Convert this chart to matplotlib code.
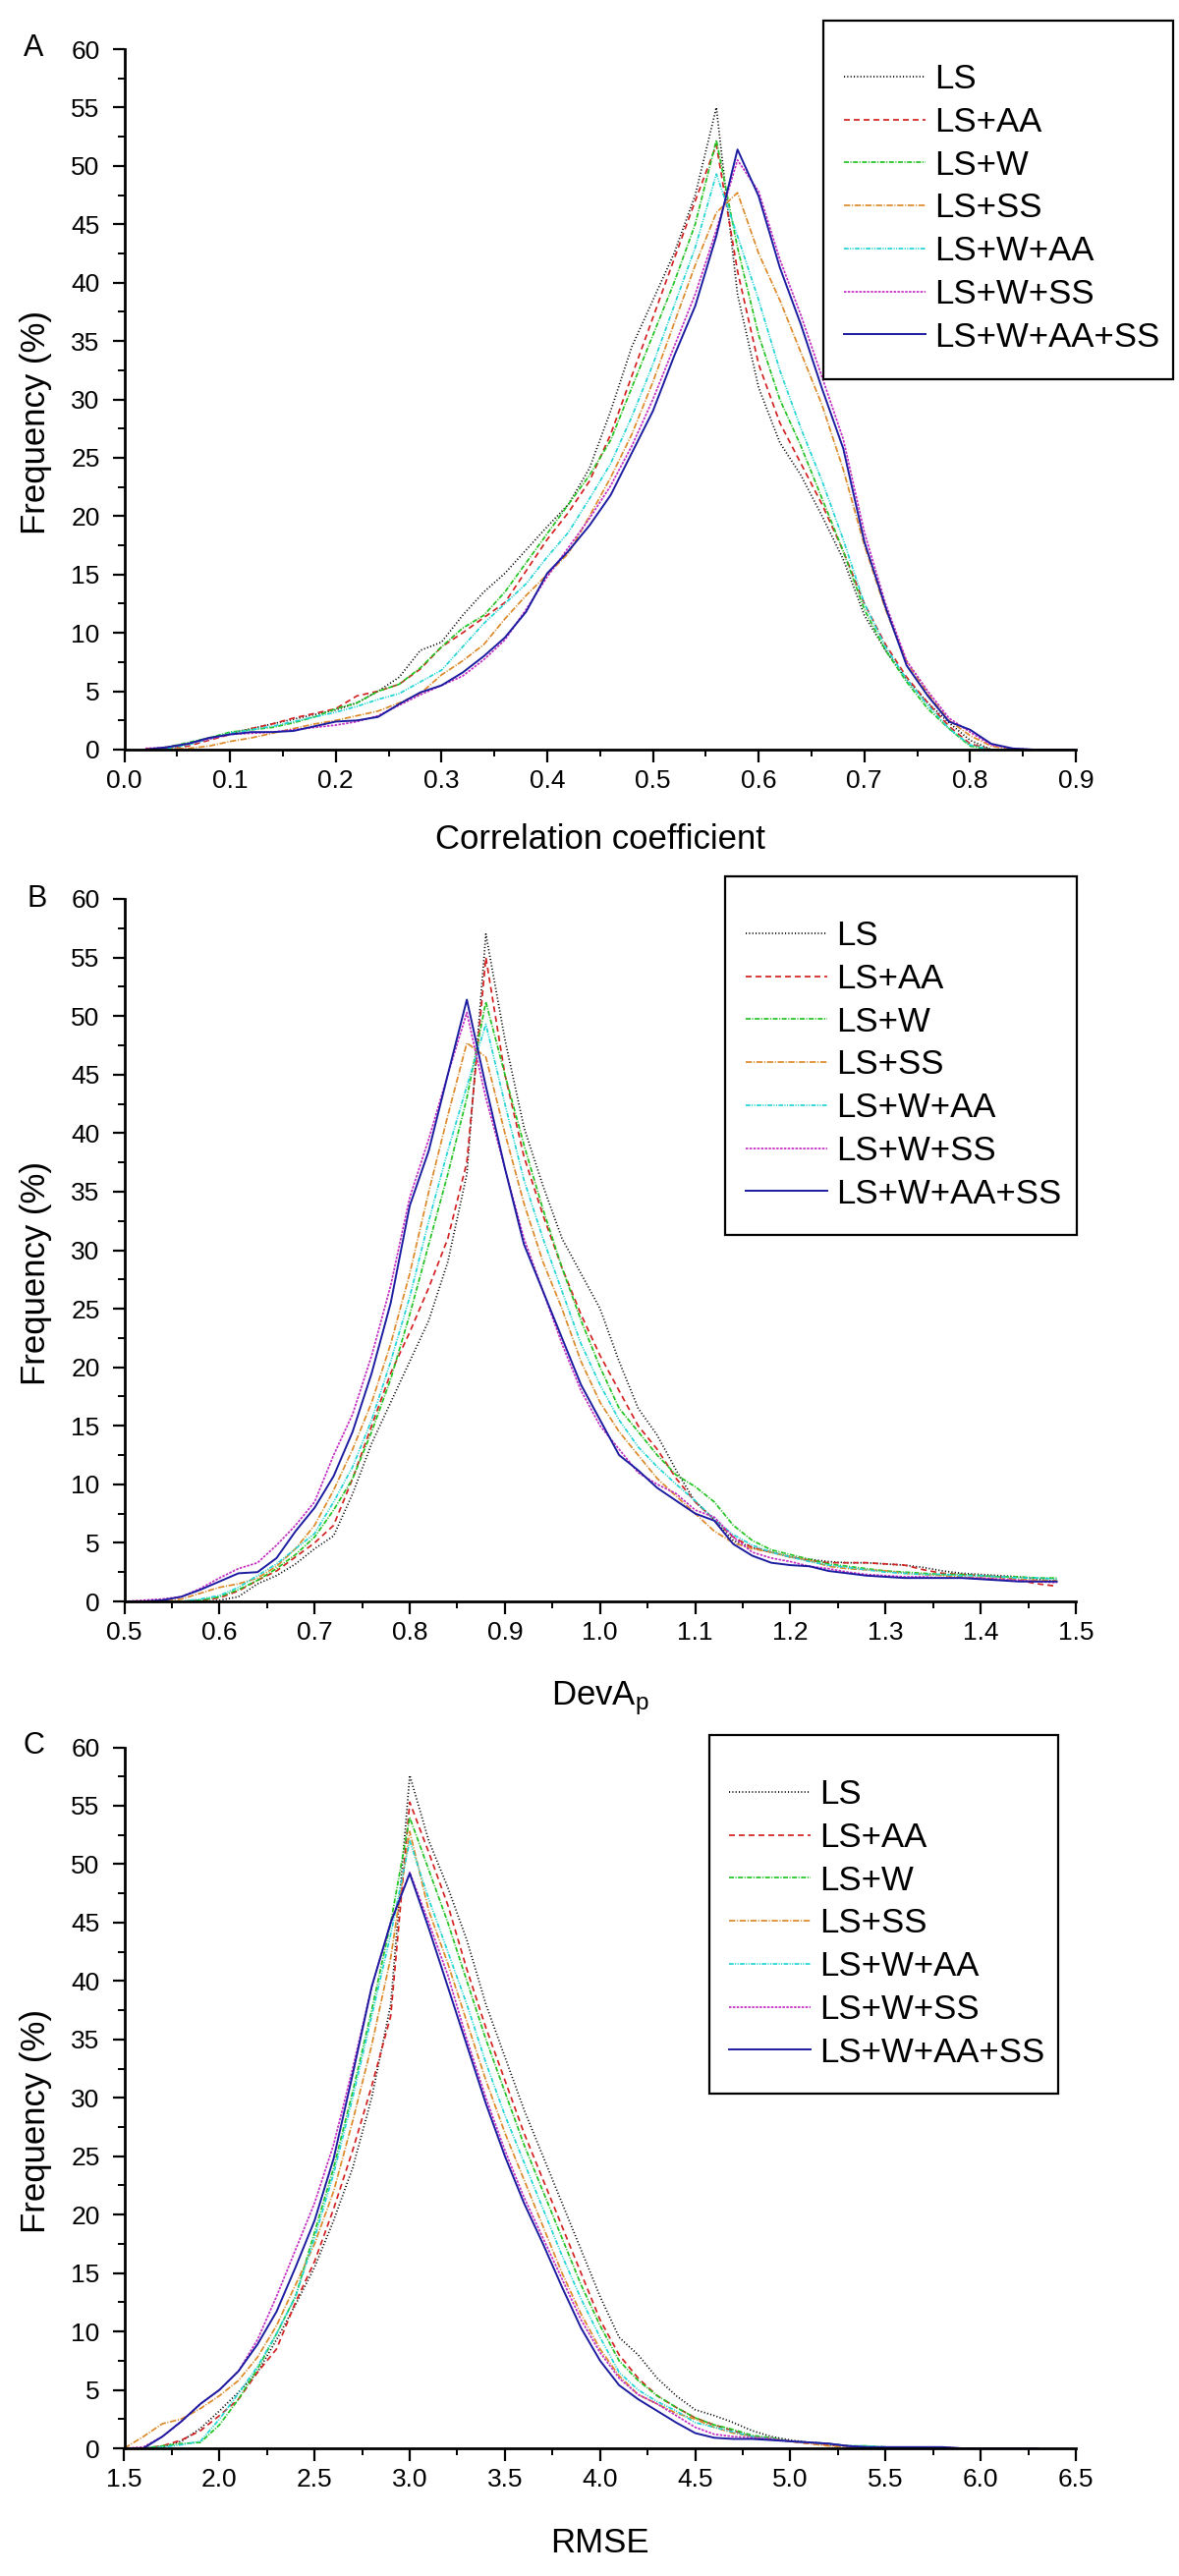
import numpy as np
import matplotlib
matplotlib.use('Agg')
import matplotlib.pyplot as plt
from matplotlib.patches import Rectangle
from matplotlib.ticker import MultipleLocator, FormatStrFormatter

plt.rcParams['font.family'] = ['Liberation Sans', 'DejaVu Sans']
plt.rcParams['mathtext.fontset'] = 'custom'
plt.rcParams['mathtext.rm'] = 'Liberation Sans'
plt.rcParams['mathtext.it'] = 'Liberation Sans:italic'
plt.rcParams['lines.scale_dashes'] = False

# ---------------- data ----------------
series_names = ['LS', 'LS+AA', 'LS+W', 'LS+SS', 'LS+W+AA', 'LS+W+SS', 'LS+W+AA+SS']
series_colors = ['#000000', '#d42222', '#22c322', '#dc8a2a', '#22d4d4', '#c42cc4', '#1c1ca0']
series_dashes = [(0, (0.8, 1.6)), (0, (4.3, 2.9)), (0, (3.6, 1.1, 0.8, 1.1)),
                 (0, (4.6, 1.2, 0.8, 1.2)), (0, (3.4, 1.0, 0.8, 1.0, 0.8, 1.0)),
                 (0, (1.8, 1.0)), 'solid']

# Panel A: correlation coefficient (x = 0.02 ... 0.90)
x_corr = np.round(np.arange(0.02, 0.901, 0.02), 2)
corr_LS = [0, 0.2, 0.5, 1.0, 1.4, 1.8, 2.2, 2.6, 3.0, 3.4, 4.0, 5.0, 6.2, 8.5, 9.2, 11.5, 13.5, 15.1, 17.1, 19.1,
           21.0, 24.1, 29, 34.5, 38.5, 42.5, 47.5, 55, 39, 31, 26.3, 23.5, 20, 16.3, 11.5, 8.5, 6.0, 4.0, 2.3, 0.8,
           0, 0, 0, 0, 0]
corr_LS_AA = [0, 0.1, 0.3, 0.8, 1.3, 1.8, 2.2, 2.7, 3.1, 3.5, 4.6, 5.0, 5.6, 6.9, 8.8, 10.0, 11.3, 12.6, 15.3, 18.0,
              20.3, 23.0, 27, 32, 37, 42, 47, 51.8, 41, 33, 28, 24.5, 21, 17, 12.5, 9.0, 6.2, 4.0, 2.0, 0.5,
              0, 0, 0, 0, 0]
corr_LS_W = [0, 0.2, 0.6, 1.0, 1.5, 1.7, 1.9, 2.3, 2.8, 3.5, 4.0, 5.0, 5.6, 7.0, 8.8, 10.4, 11.5, 13.5, 16.0, 18.5,
             21, 23.5, 26.5, 31, 35.5, 40, 45, 52.2, 43, 35.5, 30, 26, 21.5, 17, 12, 8.5, 5.8, 3.5, 1.8, 0.3,
             0, 0, 0, 0, 0]
corr_LS_SS = [0.1, 0.1, 0.1, 0.3, 0.7, 1.0, 1.4, 1.8, 2.2, 2.5, 2.9, 3.3, 4.0, 4.8, 6.4, 7.6, 9.0, 11.2, 13.2, 15.0,
              16.8, 20, 23.3, 27, 31.5, 36.5, 41.5, 46, 47.7, 42.5, 38.5, 34, 29.5, 24, 17.5, 12, 7.5, 4.8, 2.5, 1.2,
              0.3, 0, 0, 0, 0]
corr_LS_W_AA = [0, 0.1, 0.4, 0.9, 1.4, 1.7, 2.0, 2.4, 2.8, 3.2, 3.7, 4.3, 4.8, 5.8, 6.8, 8.8, 10.8, 12.5, 14.2, 16.5,
                18.6, 21.5, 24.5, 28.5, 33, 38, 43, 49.3, 44, 38.5, 32.5, 27.5, 23, 18, 12.5, 8.8, 6.0, 3.8, 1.8, 0.4,
                0, 0, 0, 0, 0]
corr_LS_W_SS = [0.1, 0.2, 0.5, 0.9, 1.3, 1.4, 1.5, 1.7, 1.9, 2.1, 2.4, 2.9, 3.8, 4.7, 5.5, 6.3, 7.7, 9.4, 12, 14.8,
                17.3, 19.8, 22.6, 26, 30, 34.5, 39, 44.5, 50.5, 47.8, 42, 37.2, 31.9, 26.6, 18.6, 12.5, 7.6, 5.0, 2.7, 1.5,
                0.4, 0.1, 0, 0, 0]
corr_LS_W_AA_SS = [0, 0.2, 0.5, 1.0, 1.3, 1.5, 1.5, 1.6, 2.0, 2.4, 2.5, 2.8, 3.9, 4.9, 5.5, 6.6, 8.0, 9.6, 11.8, 15.1,
                   17, 19.2, 21.8, 25.4, 29, 33.7, 38, 44, 51.4, 47.4, 41.3, 36.4, 30.9, 25.8, 17.8, 12.2, 7.2, 4.6, 2.4, 1.7,
                   0.5, 0.1, 0, 0, 0]

# Panel B: DevAp (x = 0.50 ... 1.48)
x_dev = np.round(np.arange(0.50, 1.481, 0.02), 2)
dev_LS = [0, 0, 0, 0, 0, 0.1, 0.4, 1.5, 2.2, 3.2, 4.5, 5.6, 9.2, 13.5, 17, 20.5, 24, 29, 36.5, 57,
          48, 40.5, 35.5, 31, 28, 25, 20.5, 16.5, 14.2, 11.2, 8.5, 7.0, 5.2, 4.6, 4.2, 3.8, 3.6, 3.4, 3.3, 3.3,
          3.2, 3.1, 2.9, 2.6, 2.4, 2.3, 2.2, 2.1, 1.9, 1.7]
dev_LS_AA = [0, 0, 0, 0, 0.1, 0.3, 0.9, 1.8, 2.6, 3.8, 5.0, 6.5, 10.5, 15, 19.5, 23, 26.8, 31, 37.5, 55,
             45, 38, 33, 28.5, 24.5, 21, 18, 15, 13, 10.5, 8.5, 7.0, 5.5, 4.6, 4.2, 3.8, 3.5, 3.3, 3.3, 3.3,
             3.2, 3.1, 2.7, 2.4, 2.3, 2.2, 2.1, 1.8, 1.5, 1.3]
dev_LS_W = [0, 0, 0, 0, 0.1, 0.4, 1.0, 1.8, 2.8, 4.0, 5.5, 7.8, 10.5, 14.5, 19, 24.5, 30.5, 36.5, 43, 51.2,
            45, 39, 33.5, 28.5, 24, 20, 16.5, 14.5, 12.5, 10.8, 9.8, 8.5, 6.5, 5.2, 4.4, 4.0, 3.6, 3.2, 3.0, 2.8,
            2.6, 2.5, 2.4, 2.3, 2.3, 2.2, 2.1, 2.1, 2.0, 2.0]
dev_LS_SS = [0, 0, 0, 0.2, 0.7, 1.2, 1.5, 2.0, 3.0, 4.5, 6.5, 9.5, 13, 17, 22, 28, 35, 41.5, 47.7, 46.5,
             40, 34, 29, 25, 20.5, 17, 14.5, 12.5, 10.5, 9.0, 7.5, 6.0, 5.0, 4.5, 4.2, 3.8, 3.5, 3.0, 2.8, 2.7,
             2.6, 2.4, 2.3, 2.2, 2.1, 2.0, 1.9, 1.9, 1.8, 1.8]
dev_LS_W_AA = [0, 0, 0, 0, 0.2, 0.5, 1.2, 2.2, 3.2, 4.5, 5.8, 8.5, 11.5, 15.5, 20.5, 26, 32.5, 38.5, 44, 49.3,
               42.5, 36, 31, 26.5, 22, 18.5, 15.5, 13.2, 11.5, 10, 8.6, 7.0, 5.7, 4.8, 4.2, 3.8, 3.4, 3.1, 2.9, 2.7,
               2.5, 2.4, 2.3, 2.3, 2.2, 2.2, 2.1, 2.0, 2.0, 1.9]
dev_LS_W_SS = [0, 0.1, 0.2, 0.4, 1.1, 2.0, 2.8, 3.3, 4.8, 6.5, 8.5, 12.5, 16, 21, 27, 34.5, 39.5, 45, 50.3, 43,
               37, 31, 26.5, 22, 18, 15, 13, 11, 10, 9.2, 7.8, 7.2, 5.5, 4.2, 3.7, 3.4, 3.0, 2.8, 2.5, 2.3,
               2.2, 2.1, 2.1, 2.0, 2.0, 2.0, 1.9, 1.8, 1.7, 1.6]
dev_LS_W_AA_SS = [0, 0, 0.1, 0.4, 1.0, 1.7, 2.4, 2.5, 3.7, 6.0, 8.0, 10.7, 14.5, 19.5, 25.5, 33.8, 38.5, 45, 51.4, 44,
                  37, 30.5, 26.5, 22.5, 18.5, 15.5, 12.5, 11.2, 9.7, 8.6, 7.5, 6.9, 4.9, 3.9, 3.3, 3.1, 3.0, 2.6, 2.4, 2.2,
                  2.1, 2.0, 2.0, 2.0, 2.0, 1.9, 1.8, 1.7, 1.7, 1.7]

# Panel C: RMSE (x = 1.5 ... 6.3)
x_rmse = np.round(np.arange(1.5, 6.301, 0.1), 1)
rmse_LS = [0, 0, 0.1, 0.6, 1.7, 3.2, 4.8, 6.5, 9.3, 12.3, 15.5, 19.5, 24, 30, 38, 57.6,
           52, 48, 43.5, 38, 33.5, 29, 25, 21, 17, 13, 9.5, 8.0, 6.0, 4.5, 3.3, 2.8, 2.2, 1.5, 1.0, 0.7,
           0.5, 0.3, 0.2, 0.1, 0.1, 0, 0, 0, 0, 0, 0, 0, 0]
rmse_LS_AA = [0, 0, 0.2, 0.7, 1.5, 2.8, 4.2, 6.5, 8.5, 12.5, 16, 20.5, 25.5, 31, 37, 55.3,
              51, 46.5, 41, 36, 31.5, 27, 23, 19, 15, 11, 8, 6, 4.5, 3.5, 2.6, 2.0, 1.5, 1.0, 0.8, 0.6,
              0.4, 0.3, 0.2, 0.1, 0.1, 0, 0, 0, 0, 0, 0, 0, 0]
rmse_LS_W = [0, 0, 0.2, 0.4, 0.5, 2.0, 4.2, 6.8, 9.8, 13, 18.5, 24, 30.5, 37.5, 45, 54,
             49.5, 45, 40, 35, 30.5, 26, 22, 18, 14, 10.5, 7.5, 5.8, 4.5, 3.5, 2.6, 2.0, 1.6, 1.1, 0.9, 0.6,
             0.5, 0.4, 0.2, 0.2, 0.1, 0, 0, 0, 0, 0, 0, 0, 0]
rmse_LS_SS = [0, 1.0, 2.1, 2.5, 3.4, 4.5, 5.8, 7.8, 10.5, 14, 17.5, 22, 28, 34.5, 42, 52.8,
              46, 41.5, 36.5, 31.5, 27, 23, 19, 15, 11.5, 8.5, 6.2, 4.6, 3.8, 3.0, 2.5, 1.8, 1.3, 1.0, 0.8, 0.6,
              0.4, 0.2, 0.1, 0.1, 0, 0, 0, 0, 0, 0, 0, 0, 0]
rmse_LS_W_AA = [0, 0, 0.1, 0.3, 0.6, 2.5, 4.7, 7.0, 9.8, 13, 18, 23.5, 30, 37, 44, 52,
                47, 42.5, 38, 33, 28.5, 24.5, 20.5, 16.5, 12.8, 9.5, 6.5, 5.0, 4.0, 3.2, 2.2, 1.8, 1.4, 1.0, 0.8, 0.6,
                0.5, 0.4, 0.2, 0.2, 0.1, 0, 0, 0, 0, 0, 0, 0, 0]
rmse_LS_W_SS = [0, 0.1, 1.0, 2.3, 3.8, 5.0, 6.6, 9.3, 13, 17, 21, 26, 32.5, 39.5, 45, 49.3,
                45, 40.5, 35, 30, 25.5, 21.5, 18, 14.5, 11, 8.2, 6.0, 4.6, 3.8, 2.8, 1.8, 1.2, 1.0, 0.9, 0.8, 0.6,
                0.5, 0.4, 0.2, 0.1, 0.1, 0.1, 0.1, 0.1, 0, 0, 0, 0, 0]
rmse_LS_W_AA_SS = [0, 0, 1.0, 2.3, 3.8, 5.0, 6.6, 8.9, 11.7, 15.5, 19.5, 24.8, 32, 39.5, 45, 49.2,
                   44.5, 39.5, 34.5, 29.5, 25, 21, 17.5, 13.8, 10.3, 7.5, 5.4, 4.2, 3.2, 2.2, 1.3, 0.9, 0.8, 0.8, 0.7, 0.6,
                   0.5, 0.4, 0.2, 0.1, 0.1, 0.1, 0.1, 0.1, 0, 0, 0, 0, 0]

corr_series = [corr_LS, corr_LS_AA, corr_LS_W, corr_LS_SS, corr_LS_W_AA, corr_LS_W_SS, corr_LS_W_AA_SS]
dev_series = [dev_LS, dev_LS_AA, dev_LS_W, dev_LS_SS, dev_LS_W_AA, dev_LS_W_SS, dev_LS_W_AA_SS]
rmse_series = [rmse_LS, rmse_LS_AA, rmse_LS_W, rmse_LS_SS, rmse_LS_W_AA, rmse_LS_W_SS, rmse_LS_W_AA_SS]

x_labels = ['Correlation coefficient', r'DevA$_\mathrm{p}$', 'RMSE']
panel_letters = ['A', 'B', 'C']
y_label = 'Frequency (%)'

# ---------------- layout (pixels) ----------------
W, H = 1200, 2622
fig = plt.figure(figsize=(W / 100, H / 100), dpi=100)

def fx(px):
    return px / W

def fy(py):
    return 1 - py / H

panels = [
    dict(rect=(126.5, 50, 1095, 763), x=x_corr, data=corr_series, xlim=(0.0, 0.9), major=0.1, minor=0.05,
         fmt='%.1f', letter_xy=(34.5, 49), frame=(838, 21, 356, 365), handle_x=859, first_y=80, xlab_off=91),
    dict(rect=(126.5, 915, 1095, 1630), x=x_dev, data=dev_series, xlim=(0.5, 1.5), major=0.1, minor=0.05,
         fmt='%.1f', letter_xy=(38, 915), frame=(738, 892, 358, 365), handle_x=759, first_y=952, xlab_off=99),
    dict(rect=(126.5, 1778.5, 1095, 2492), x=x_rmse, data=rmse_series, xlim=(1.5, 6.5), major=0.5, minor=0.25,
         fmt='%.1f', letter_xy=(34.5, 1777), frame=(722, 1766, 355, 365), handle_x=742, first_y=1826, xlab_off=96),
]

for i, p in enumerate(panels):
    l, t, r, b = p['rect']
    aw, ah = r - l, b - t
    ax = fig.add_axes([fx(l), fy(b), aw / W, ah / H])
    handles = []
    for vals, name, col, ls in zip(p['data'], series_names, series_colors, series_dashes):
        lw = 1.4 if name == 'LS+W+AA+SS' else 1.25
        h, = ax.plot(p['x'], vals, color=col, linestyle=ls, lw=lw, label=name)
        handles.append(h)
    ax.set_xlim(*p['xlim'])
    ax.set_ylim(0, 60)
    for s in ['top', 'right']:
        ax.spines[s].set_visible(False)
    for s in ['left', 'bottom']:
        ax.spines[s].set_linewidth(2.0)
    ax.xaxis.set_major_locator(MultipleLocator(p['major']))
    ax.xaxis.set_minor_locator(MultipleLocator(p['minor']))
    ax.xaxis.set_major_formatter(FormatStrFormatter(p['fmt']))
    ax.yaxis.set_major_locator(MultipleLocator(5))
    ax.yaxis.set_minor_locator(MultipleLocator(2.5))
    ax.tick_params(axis='both', which='major', direction='out', length=9, width=1.6, labelsize=19)
    ax.tick_params(axis='both', which='minor', direction='out', length=5, width=1.4)
    ax.tick_params(axis='x', which='major', pad=5.5)
    ax.tick_params(axis='y', which='major', pad=9)

    ax.set_xlabel(x_labels[i], fontsize=25)
    ax.xaxis.set_label_coords(0.5, -p['xlab_off'] / ah)
    ax.xaxis.label.set_verticalalignment('center')
    ax.set_ylabel(y_label, fontsize=25)
    ax.yaxis.set_label_coords((36.5 - l) / aw, 0.5 - 24 / ah)
    ax.yaxis.label.set_verticalalignment('center')

    lx, ly = p['letter_xy']
    fig.text(fx(lx), fy(ly), panel_letters[i], fontsize=22, ha='center', va='center')

    leg = ax.legend(handles=handles, loc='upper left',
                    bbox_to_anchor=(fx(p['handle_x']), fy(p['first_y'] - 16)),
                    bbox_transform=fig.transFigure, frameon=False, borderpad=0, borderaxespad=0,
                    handlelength=2.39, handletextpad=0.26, labelspacing=0.31, fontsize=25)
    fx0, fy0, fw, fh = p['frame']
    fig.add_artist(Rectangle((fx(fx0), fy(fy0 + fh)), fw / W, fh / H, transform=fig.transFigure,
                             fill=False, lw=1.6, ec='black', zorder=10))

fig.savefig('out.png', dpi=100)
